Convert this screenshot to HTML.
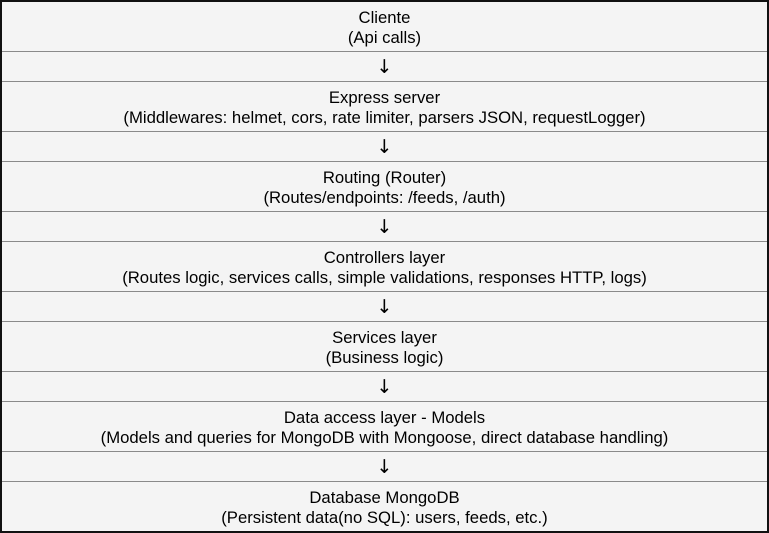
<!DOCTYPE html>
<html><head><meta charset="utf-8"><style>
body{margin:0;background:#fff;}
#c{position:absolute;left:0;top:0;width:769px;height:533px;box-sizing:border-box;border:2px solid #111;background:#f4f4f4;font-family:"Liberation Sans",sans-serif;font-size:16.7px;color:#000;}
.l{position:absolute;left:0;right:0;height:1px;background:#8a8a8a;}
.t{position:absolute;left:0;right:0;text-align:center;line-height:20px;}
.a{position:absolute;left:0;right:0;text-align:center;line-height:30px;font-size:19px;font-family:"DejaVu Sans",sans-serif;}
</style></head><body><div id="c">
<div class="t" style="top:6px">Cliente<br>(Api calls)</div>
<div class="l" style="top:49px"></div>
<div class="a" style="top:50px">↓</div>
<div class="l" style="top:79px"></div>
<div class="t" style="top:86px">Express server<br>(Middlewares: helmet, cors, rate limiter, parsers JSON, requestLogger)</div>
<div class="l" style="top:129px"></div>
<div class="a" style="top:130px">↓</div>
<div class="l" style="top:159px"></div>
<div class="t" style="top:166px">Routing (Router)<br>(Routes/endpoints: /feeds, /auth)</div>
<div class="l" style="top:209px"></div>
<div class="a" style="top:210px">↓</div>
<div class="l" style="top:239px"></div>
<div class="t" style="top:246px">Controllers layer<br>(Routes logic, services calls, simple validations, responses HTTP, logs)</div>
<div class="l" style="top:289px"></div>
<div class="a" style="top:290px">↓</div>
<div class="l" style="top:319px"></div>
<div class="t" style="top:326px">Services layer<br>(Business logic)</div>
<div class="l" style="top:369px"></div>
<div class="a" style="top:370px">↓</div>
<div class="l" style="top:399px"></div>
<div class="t" style="top:406px">Data access layer - Models<br>(Models and queries for MongoDB with Mongoose, direct database handling)</div>
<div class="l" style="top:449px"></div>
<div class="a" style="top:450px">↓</div>
<div class="l" style="top:479px"></div>
<div class="t" style="top:486px">Database MongoDB<br>(Persistent data(no SQL): users, feeds, etc.)</div>
</div></body></html>
